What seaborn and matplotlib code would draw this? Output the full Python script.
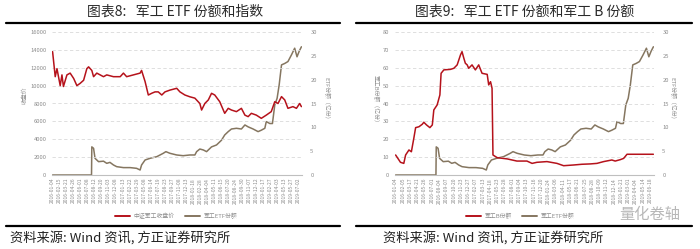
import numpy as np
import pandas as pd
import matplotlib
matplotlib.use("Agg")
import matplotlib.pyplot as plt
import seaborn as sns
from matplotlib.lines import Line2D

sns.set_theme(style="white")
plt.rcParams['font.family'] = ['Noto Sans CJK SC', 'DejaVu Sans']
plt.rcParams['axes.unicode_minus'] = False

# ---------------- data (trading-day index, value) ----------------
index_day = [0, 9, 15, 26, 32, 37, 49, 60, 72, 83, 94, 106, 117, 123, 134, 140, 151, 174, 185,
             208, 231, 242, 253, 276, 299, 304, 316, 327, 339, 350, 361, 373, 384, 401, 424,
             435, 452, 469, 486, 503, 509, 520, 532, 543, 554, 571, 588, 600, 611, 628, 645,
             657, 668, 679, 696, 713, 730, 747, 759, 770, 782, 793, 804, 821, 833, 844, 850]
index_val = [13800, 11000, 11900, 10000, 11200, 9900, 11200, 11400, 10800, 10000, 10250, 10600,
             11900, 12100, 11700, 11000, 11400, 11000, 11200, 11000, 11000, 11400, 11000, 11200,
             11400, 11700, 10450, 8950, 9150, 9300, 9300, 8950, 9300, 9500, 9700, 9300, 8950,
             8750, 8600, 8000, 7270, 8000, 8400, 9140, 8950, 8200, 6900, 7460, 7270, 7090, 7460,
             6700, 6530, 6900, 6700, 6340, 6700, 7090, 8200, 8000, 8770, 8400, 7460, 7650, 7460,
             8000, 7650]

etf_day = [0, 133, 134, 140, 145, 157, 174, 185, 196, 208, 219, 242, 265, 287, 299, 304, 316,
           333, 356, 378, 387, 401, 424, 446, 469, 486, 492, 503, 515, 526, 543, 560, 577, 588,
           600, 611, 628, 645, 657, 668, 685, 702, 713, 725, 730, 742, 751, 759, 767, 774, 782,
           793, 804, 816, 827, 835, 842, 850]
etf_val = [0, 0, 5.9, 5.6, 3.5, 2.8, 2.9, 2.45, 2.65, 2.1, 1.75, 1.55, 1.55, 1.4, 1.05, 2.1, 3.15,
           3.5, 3.85, 4.55, 4.9, 4.55, 4.2, 4.05, 4.2, 4.2, 4.9, 5.45, 5.25, 4.9, 5.9, 6.3, 7.3,
           8.4, 9.1, 9.65, 9.8, 9.65, 10.5, 10.1, 9.65, 9.1, 9.4, 9.8, 11.2, 10.8, 10.8, 14.7,
           16.1, 18.9, 23.1, 23.4, 23.8, 25.2, 26.6, 24.8, 25.9, 26.9]

bshare_day = [0, 11, 16, 27, 33, 44, 52, 60, 66, 77, 88, 93, 102, 113, 121, 126, 137, 146, 150,
              159, 181, 192, 203, 214, 219, 225, 230, 236, 241, 252, 263, 274, 285, 302, 307,
              313, 318, 321, 335, 368, 400, 433, 450, 466, 499, 532, 554, 587, 614, 642, 664,
              686, 713, 724, 741, 752, 763, 850]
bshare_val = [11.2, 8.4, 7.1, 6.5, 11.2, 14, 13, 20.5, 26.5, 27, 28.4, 29.5, 28, 26.5, 28, 36.4,
              39.2, 44.8, 56.9, 58.8, 59.1, 59.7, 61.6, 67.2, 69, 65.3, 62.5, 61.6, 59.7, 61.6,
              58.8, 61.6, 56.9, 56.3, 50.4, 52.2, 48.5, 11.2, 9.7, 9, 7.8, 7.8, 6.5, 7.1, 7.5,
              6.5, 5.2, 5.6, 6, 6.2, 6.5, 7.5, 8.4, 7.8, 8.6, 9.3, 11.6, 11.6]

left_ticklabels = ["2016-01-04", "2016-02-15", "2016-03-21", "2016-04-26", "2016-06-01",
                   "2016-07-08", "2016-08-12", "2016-09-20", "2016-11-03", "2016-12-08",
                   "2017-01-13", "2017-02-22", "2017-03-29", "2017-05-08", "2017-06-14",
                   "2017-07-19", "2017-08-23", "2017-09-27", "2017-11-08", "2017-12-13",
                   "2018-01-18", "2018-02-28", "2018-04-04", "2018-05-11", "2018-06-15",
                   "2018-07-20", "2018-08-24", "2018-09-30", "2018-11-07", "2018-12-12",
                   "2019-01-17", "2019-02-27", "2019-04-03", "2019-05-13", "2019-05-27",
                   "2019-07-02"]
right_ticklabels = ["2016-01-04", "2016-02-05", "2016-03-17", "2016-04-21", "2016-05-26",
                    "2016-07-01", "2016-08-04", "2016-09-07", "2016-10-20", "2016-11-23",
                    "2016-12-27", "2017-02-07", "2017-03-13", "2017-04-18", "2017-05-23",
                    "2017-06-28", "2017-08-01", "2017-09-04", "2017-10-13", "2017-11-16",
                    "2017-12-20", "2018-01-24", "2018-03-06", "2018-04-11", "2018-05-17",
                    "2018-06-21", "2018-07-25", "2018-08-28", "2018-10-09", "2018-11-12",
                    "2018-12-14", "2019-01-21", "2019-03-01", "2019-04-04", "2019-05-14",
                    "2019-06-18"]

RED = "#B5121B"
BROWN = "#857660"
GRID = "#D9D9D9"
TXT = "#8C8C8C"

W, H = 700, 249
fig = plt.figure(figsize=(W / 100, H / 100), dpi=100)
fig.patch.set_facecolor("white")


def px_rect(x0, y0, x1, y1):
    return [x0 / W, 1 - y1 / H, (x1 - x0) / W, (y1 - y0) / H]


def style_axes(ax, ymax, ystep, ticklabels):
    ax.set_xlim(-2, 852)
    ax.set_ylim(0, ymax)
    ax.set_yticks(np.arange(0, ymax + ystep / 2, ystep))
    ax.yaxis.grid(True, color=GRID, linestyle=(0, (4, 3)), linewidth=0.6)
    ax.xaxis.grid(False)
    for s in ["top", "right", "left"]:
        ax.spines[s].set_visible(False)
    ax.spines["bottom"].set_color("#BFBFBF")
    ax.spines["bottom"].set_linewidth(0.8)
    ticks = np.arange(len(ticklabels)) * 24
    ax.set_xticks(ticks)
    ax.set_xticklabels(ticklabels, rotation=90, fontsize=3.6, color=TXT)
    ax.tick_params(axis="y", labelsize=4.2, colors=TXT, length=0, pad=4)
    ax.tick_params(axis="x", length=0, pad=2)
    ax.set_xlabel("")
    ax.set_ylabel("")


def style_twin(ax2, ymax, ystep):
    ax2.set_ylim(0, ymax)
    ax2.set_yticks(np.arange(0, ymax + ystep / 2, ystep))
    ax2.grid(False)
    for s in ["top", "right", "left", "bottom"]:
        ax2.spines[s].set_visible(False)
    ax2.tick_params(axis="y", labelsize=4.2, colors=TXT, length=0, pad=6)
    ax2.set_ylabel("")


df_idx = pd.DataFrame({"day": index_day, "value": index_val})
df_etf = pd.DataFrame({"day": etf_day, "value": etf_val})
df_b = pd.DataFrame({"day": bshare_day, "value": bshare_val})

# ---------------- left panel ----------------
axL = fig.add_axes(px_rect(52, 32, 302, 175))
axL2 = axL.twinx()
sns.lineplot(data=df_idx, x="day", y="value", ax=axL, color=RED, linewidth=1.1)
sns.lineplot(data=df_etf, x="day", y="value", ax=axL2, color=BROWN, linewidth=1.1)
style_axes(axL, 16000, 2000, left_ticklabels)
style_twin(axL2, 30, 5)
axL.set_zorder(axL2.get_zorder() + 1)
axL.patch.set_visible(False)
fig.text(25 / W, 1 - 95 / H, "收盘价", rotation=90, fontsize=4.2, color=TXT,
         ha="center", va="center")
fig.text(326 / W, 1 - 100 / H, "ETF份额（亿份）", rotation=-90, fontsize=4.2, color=TXT,
         ha="center", va="center")

# ---------------- right panel ----------------
axR = fig.add_axes(px_rect(395, 32, 654, 175))
axR2 = axR.twinx()
sns.lineplot(data=df_b, x="day", y="value", ax=axR, color=RED, linewidth=1.1)
sns.lineplot(data=df_etf, x="day", y="value", ax=axR2, color=BROWN, linewidth=1.1)
style_axes(axR, 80, 10, right_ticklabels)
style_twin(axR2, 30, 5)
axR.set_zorder(axR2.get_zorder() + 1)
axR.patch.set_visible(False)
fig.text(375 / W, 1 - 100 / H, "军工B份额（亿份）", rotation=-90, fontsize=4.2, color=TXT,
         ha="center", va="center")
fig.text(672 / W, 1 - 100 / H, "ETF份额（亿份）", rotation=-90, fontsize=4.2, color=TXT,
         ha="center", va="center")

# ---------------- legends ----------------
def add_legend(cx, labels):
    handles = [Line2D([], [], color=RED, lw=1.4), Line2D([], [], color=BROWN, lw=1.4)]
    fig.legend(handles, labels, loc="center", bbox_to_anchor=(cx / W, 1 - 216 / H),
               ncol=2, frameon=False, fontsize=4.2, labelcolor=TXT, handlelength=2.6,
               columnspacing=1.8, handletextpad=0.6)


add_legend(176, ["中证军工收盘价", "军工ETF份额"])
add_legend(520, ["军工B份额", "军工ETF份额"])

# ---------------- titles, rules and sources ----------------
fig.text(175 / W, 1 - 12 / H, "图表8:   军工 ETF 份额和指数", fontsize=10, color="#2A2A2A",
         ha="center", va="center", fontweight="medium")
fig.text(525 / W, 1 - 12 / H, "图表9:   军工 ETF 份额和军工 B 份额", fontsize=10, color="#2A2A2A",
         ha="center", va="center", fontweight="medium")
for x0, x1 in [(6, 340), (356, 692)]:
    fig.add_artist(Line2D([x0 / W, x1 / W], [1 - 23 / H, 1 - 23 / H], color="black", lw=1.6))
    fig.add_artist(Line2D([x0 / W, x1 / W], [1 - 226 / H, 1 - 226 / H], color="black", lw=1.6))
fig.text(10 / W, 1 - 238 / H, "资料来源: Wind 资讯, 方正证券研究所", fontsize=9.5,
         color="#222222", ha="left", va="center", style="italic")
fig.text(383 / W, 1 - 238 / H, "资料来源: Wind 资讯, 方正证券研究所", fontsize=9.5,
         color="#222222", ha="left", va="center", style="italic")
fig.text(650 / W, 1 - 214 / H, "量化卷轴", fontsize=11, color="#B8B8B8",
         ha="center", va="center")

fig.savefig("out.png", dpi=100, facecolor="white")
